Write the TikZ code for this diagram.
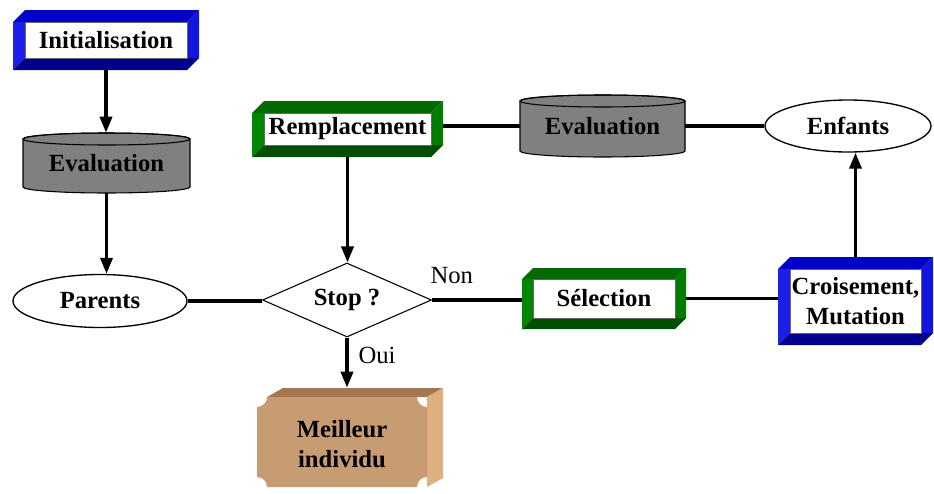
\documentclass[tikz,border=0pt]{standalone}
\usepackage{fontspec}
\setmainfont{Liberation Serif}
\usetikzlibrary{arrows.meta,shapes.geometric}

% bevelled frame colours
\definecolor{bxT}{RGB}{0,0,200}
\definecolor{bxL}{RGB}{30,30,235}
\definecolor{bxR}{RGB}{20,20,225}
\definecolor{bxB}{RGB}{0,0,140}
\definecolor{gxT}{RGB}{0,105,0}
\definecolor{gxL}{RGB}{0,135,0}
\definecolor{gxR}{RGB}{0,125,0}
\definecolor{gxB}{RGB}{0,78,0}
\definecolor{drumgray}{RGB}{128,128,128}
\definecolor{tanfront}{RGB}{200,156,114}
\definecolor{tantop}{RGB}{163,120,80}
\definecolor{tanside}{RGB}{222,176,127}

% #1,#2 top-left corner; #3,#4 bottom-right corner; #5 band width; #6 colour family
\newcommand\bevelbox[6]{%
  \fill[#6T] (#1,#2+#5) -- (#1+#5,#2) -- (#3,#2) -- (#3-#5,#2+#5) -- (#1+#5,#2+#5) -- cycle;
  \fill[#6L] (#1,#2+#5) -- (#1+#5,#2+#5) -- (#1+#5,#4-#5) -- (#1,#4) -- cycle;
  \fill[#6R] (#3,#2) -- (#3,#4-#5) -- (#3-#5,#4-#5) -- (#3-#5,#2+#5) -- cycle;
  \fill[#6B] (#1,#4) -- (#1+#5,#4-#5) -- (#3-#5,#4-#5) -- (#3,#4-#5) -- (#3-#5,#4) -- cycle;
  \filldraw[fill=white, draw=black!60, line width=0.4pt] (#1+#5,#2+#5) rectangle (#3-#5,#4-#5);
}

\begin{document}
\begin{tikzpicture}[x=0.75pt,y=-0.75pt,
  flow/.style={line width=2.6pt},
  arrowline/.style={flow,-{Triangle[length=12pt,width=9pt]}},
  lbl/.style={font=\fontsize{18.5}{22}\selectfont\bfseries, align=center},
  plain/.style={font=\fontsize{18.5}{22}\selectfont},
  hold/.style={inner sep=0pt, lbl},
  oval/.style={ellipse, draw, line width=1pt, fill=white, inner sep=0pt, lbl}]
\useasboundingbox (0,0) rectangle (934,493);

% bevelled boxes
\bevelbox{13}{10}{199}{70}{12}{bx}
\node[hold, minimum width=139.5pt, minimum height=45pt] (init) at (106,40) {Initialisation};

\bevelbox{252}{101}{443}{157}{12}{gx}
\node[hold, minimum width=143.25pt, minimum height=42pt] (rempl) at (347.5,129) {Remplacement};

\bevelbox{522}{268}{686}{329}{11}{gx}
\node[hold, minimum width=123pt, minimum height=45.75pt] (sel) at (604,298.5) {S\'election};

\bevelbox{778}{257}{933}{345}{12}{bx}
\node[hold, minimum width=116.25pt, minimum height=66pt] (crois) at (855.5,301) {Croisement,\\Mutation};

% evaluation drums
\filldraw[fill=drumgray, draw=black, line width=0.8pt]
  (23,139) -- (23,187) arc[start angle=180, end angle=360, x radius=62.625pt, y radius=4.5pt]
  -- (190,139) arc[start angle=0, end angle=180, x radius=62.625pt, y radius=4.5pt] -- cycle;
\draw[line width=0.8pt] (106.5,139) ellipse [x radius=62.625pt, y radius=4.5pt];
\node[hold, minimum width=125.25pt, minimum height=45pt] (evalA) at (106.5,163) {Evaluation};

\filldraw[fill=drumgray, draw=black, line width=0.8pt]
  (520,101) -- (520,151) arc[start angle=180, end angle=360, x radius=61.875pt, y radius=4.5pt]
  -- (685,101) arc[start angle=0, end angle=180, x radius=61.875pt, y radius=4.5pt] -- cycle;
\draw[line width=0.8pt] (602.5,101) ellipse [x radius=61.875pt, y radius=4.5pt];
\node[hold, minimum width=123.75pt, minimum height=46.5pt] (evalB) at (602.5,126) {Evaluation};

% ellipses and decision
\node[oval, minimum width=130.5pt, minimum height=39.75pt] (parents) at (100,301) {Parents};
\node[oval, minimum width=124.5pt, minimum height=39pt] (enfants) at (848,126) {Enfants};
\node[diamond, draw, line width=0.8pt, fill=white, aspect=2.3, inner sep=0pt,
      minimum width=126.75pt, minimum height=55.5pt, lbl] (stop) at (347,300) {Stop ?};

% final plaque
\fill[tantop] (267,397) -- (283,388) -- (443,388) -- (427,397) -- cycle;
\fill[tanside] (427,397) -- (443,388) -- (443,478) -- (427,487) -- cycle;
\fill[tanfront] (267,397) -- (417,397) arc[start angle=180, end angle=270, radius=7.5pt]
  -- (427,477) arc[start angle=90, end angle=180, radius=7.5pt]
  -- (267,487) arc[start angle=0, end angle=90, radius=7.5pt]
  -- (257,407) arc[start angle=270, end angle=360, radius=7.5pt] -- cycle;
\node[inner sep=0pt, minimum width=139.5pt, minimum height=74.25pt] (best) at (350,437.5) {};
\node[lbl] (besttext) at (342,444) {Meilleur\\individu};

% connectors
\draw[arrowline] (init.south) -- (init.south |- evalA.north);
\draw[arrowline] (evalA.south) -- (evalA.south |- parents.north);
\draw[flow] (parents.east) -- (parents.east -| stop.west);
\draw[flow] (stop.east) -- node[pos=0.22, yshift=18pt, plain] (non) {Non} (stop.east -| sel.west);
\draw[flow] (sel.east) -- (sel.east -| crois.west);
\draw[arrowline] (crois.north) -- (crois.north |- enfants.south);
\draw[flow] (enfants.west) -- (enfants.west -| evalB.east);
\draw[flow] (evalB.west) -- (evalB.west -| rempl.east);
\draw[arrowline] (rempl.south) -- (rempl.south |- stop.north);
\draw[arrowline] (stop.south) -- node[pos=0.35, xshift=22.5pt, plain] (oui) {Oui} (stop.south |- best.north);
\end{tikzpicture}
\end{document}
